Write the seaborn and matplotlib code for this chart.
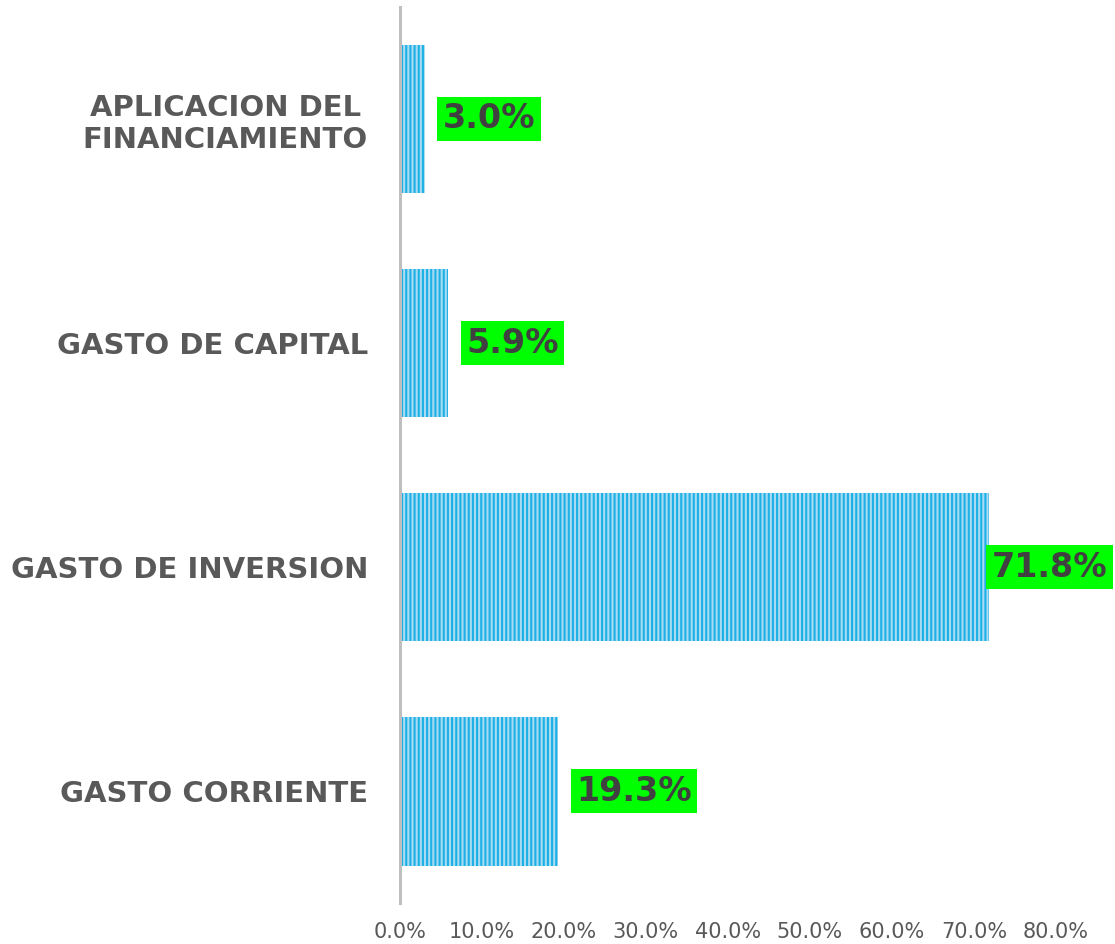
import matplotlib
matplotlib.use('Agg')
import matplotlib.pyplot as plt
import matplotlib.ticker as mtick
import seaborn as sns
import pandas as pd

## Data
categories = ['APLICACION DEL\nFINANCIAMIENTO', 'GASTO DE CAPITAL',
              'GASTO DE INVERSION', 'GASTO CORRIENTE']
shares = [0.030, 0.059, 0.718, 0.193]
x_ticks = [0.0, 0.1, 0.2, 0.3, 0.4, 0.5, 0.6, 0.7, 0.8]

df = pd.DataFrame({'categoria': categories, 'share': shares})

sns.set_style('white')
plt.rcParams['font.family'] = ['DejaVu Sans']
plt.rcParams['hatch.linewidth'] = 1.5

fig = plt.figure(figsize=(11.15, 9.44), dpi=100)
ax = fig.add_axes([0.3587, 0.0434, 0.5883, 0.9492])

sns.barplot(data=df, x='share', y='categoria', orient='h', ax=ax,
            width=0.665, color='#A9DCF3')
for p in ax.patches:
    p.set_facecolor('#A9DCF3')
    p.set_edgecolor('#1CB0E6')
    p.set_hatch('||||')
    p.set_linewidth(0)

ax.set_xlim(0, 0.8)
ax.set_ylim(3.5, -0.5)
ax.set_xticks(x_ticks)
ax.xaxis.set_major_formatter(mtick.FuncFormatter(lambda x, _: '{:.1f}%'.format(x * 100)))
ax.tick_params(axis='x', length=0, pad=14, labelsize=15, labelcolor='#595959')
ax.tick_params(axis='y', length=0, pad=23, labelsize=21, labelcolor='#595959')
for lbl in ax.get_yticklabels():
    lbl.set_fontweight('bold')
    lbl.set_multialignment('center')
ax.set_xlabel('')
ax.set_ylabel('')

for side in ['top', 'right', 'bottom']:
    ax.spines[side].set_visible(False)
ax.spines['left'].set_color('#BFBFBF')
ax.spines['left'].set_linewidth(2.2)

# value labels on green boxes
for i, v in enumerate(shares):
    pad = 3 if v > 0.6 else 18
    ax.annotate(f'{v * 100:.1f}%', xy=(v, i), xytext=(pad * 0.72, 0),
                textcoords='offset points', ha='left', va='center',
                fontsize=24, fontweight='bold', color='#404040',
                bbox=dict(boxstyle='square,pad=0.17', fc='#00FF00', ec='none'),
                annotation_clip=False)

plt.savefig('out.png', dpi=100)
